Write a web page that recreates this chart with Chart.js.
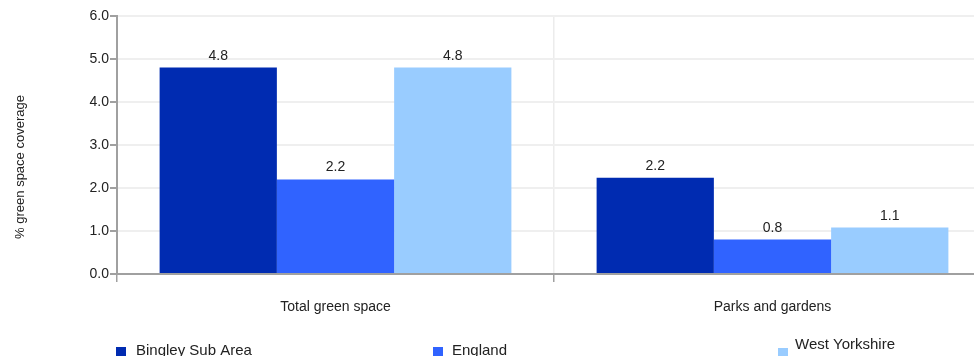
<!DOCTYPE html>
<html><head><meta charset="utf-8">
<script src="https://cdn.jsdelivr.net/npm/chart.js@4/dist/chart.umd.min.js"></script>
<style>html,body{margin:0;padding:0;overflow:hidden;background:#fff;width:974px;height:356px}#wrap{position:relative;width:1000px;height:356px}</style>
</head><body><div id="wrap"><canvas id="c" width="1000" height="356"></canvas></div>
<script>
const categories = ["Total green space", "Parks and gardens"];
const seriesNames = ["Bingley Sub Area", "England", "West Yorkshire"];
const bingley = [4.8, 2.24];
const england = [2.2, 0.8];
const westYorkshire = [4.8, 1.08];
const yTicks = [0, 1, 2, 3, 4, 5, 6];
const yTitle = "% green space coverage";
const colors = ["#002bb1", "#3063ff", "#99ccff"];
const FONT = "'Liberation Sans', Arial, sans-serif";

const labelPlugin = {
  id: 'vals',
  afterDatasetsDraw(chart) {
    const ctx = chart.ctx;
    ctx.save();
    ctx.font = "14px " + FONT;
    ctx.fillStyle = "#222";
    ctx.textAlign = "center";
    ctx.textBaseline = "alphabetic";
    chart.data.datasets.forEach((ds, i) => {
      chart.getDatasetMeta(i).data.forEach((bar, j) => {
        ctx.fillText(ds.data[j].toFixed(1), bar.x, bar.y - 8);
      });
    });
    ctx.restore();
  }
};
const legendPlugin = {
  id: 'leg',
  afterDraw(chart) {
    const ctx = chart.ctx;
    const items = [
      {bx: 116, by: 347, tx: 136, ty: 355},
      {bx: 433, by: 347, tx: 452, ty: 355},
      {bx: 778, by: 348, tx: 795, ty: 349}
    ];
    ctx.save();
    ctx.font = "15px " + FONT;
    ctx.textBaseline = "alphabetic";
    ctx.textAlign = "left";
    items.forEach((it, i) => {
      ctx.fillStyle = colors[i];
      ctx.fillRect(it.bx, it.by, 10, 10);
      ctx.fillStyle = "#222";
      ctx.fillText(seriesNames[i], it.tx, it.ty);
    });
    // y axis title
    ctx.save();
    ctx.translate(20, 167);
    ctx.rotate(-Math.PI / 2);
    ctx.font = "13px " + FONT;
    ctx.textAlign = "center";
    ctx.textBaseline = "middle";
    ctx.fillText(yTitle, 0, 0);
    ctx.restore();
    ctx.restore();
  }
};

new Chart(document.getElementById('c'), {
  type: 'bar',
  data: {
    labels: categories,
    datasets: [
      {label: seriesNames[0], data: bingley, backgroundColor: colors[0]},
      {label: seriesNames[1], data: england, backgroundColor: colors[1]},
      {label: seriesNames[2], data: westYorkshire, backgroundColor: colors[2]}
    ]
  },
  options: {
    responsive: false,
    animation: false,
    categoryPercentage: 0.805,
    barPercentage: 1.0,
    layout: {padding: {top: 16, right: 9, bottom: 42, left: 0}},
    plugins: {legend: {display: false}, tooltip: {enabled: false}},
    scales: {
      x: {
        afterFit(s) { s.height = 40; },
        grid: {color: "#ececec", lineWidth: 1.5, tickColor: "#a0a0a0", tickLength: 8, offset: true},
        border: {color: "#a0a0a0", width: 2},
        ticks: {color: "#222", font: {family: FONT, size: 14}, padding: 17}
      },
      y: {
        min: 0, max: 6,
        afterFit(s) { s.width = 117; },
        afterBuildTicks(s) { s.ticks = yTicks.map(v => ({value: v})); },
        grid: {color: "#efefef", lineWidth: 2, tickColor: "#a0a0a0", tickLength: 7},
        border: {color: "#a0a0a0", width: 2},
        ticks: {color: "#222", font: {family: FONT, size: 14}, padding: 1, callback: v => Number(v).toFixed(1)}
      }
    }
  },
  plugins: [labelPlugin, legendPlugin]
});
</script></body></html>
